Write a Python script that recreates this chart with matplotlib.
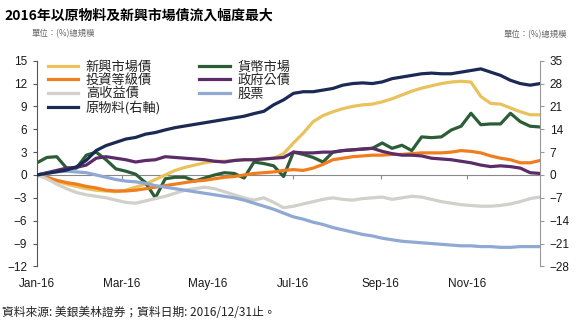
import matplotlib
matplotlib.use("Agg")
import matplotlib.pyplot as plt
import matplotlib.dates as mdates
import pandas as pd

plt.rcParams['font.family'] = ['Liberation Sans', 'Noto Sans CJK TC', 'DejaVu Sans']

# weekly cumulative flows, % of AUM
dates = pd.date_range('2016-01-01', periods=52, freq='7D')

em_debt = [0, -0.3, -0.8, -1.2, -1.5, -1.8, -2.0, -2.1, -2.2, -2.0, -1.6, -1.2, -0.6, 0.0,
           0.6, 1.0, 1.3, 1.6, 1.8, 1.8, 1.9, 2.0, 2.0, 2.1, 2.2, 2.8, 4.2, 5.5, 7.0, 7.8,
           8.3, 8.7, 9.0, 9.2, 9.3, 9.6, 10.0, 10.5, 11.0, 11.4, 11.7, 12.0, 12.2, 12.3,
           12.2, 10.3, 9.4, 9.3, 8.8, 8.3, 7.9, 7.9]
money_mkt = [1.6, 2.3, 2.4, 0.9, 0.9, 2.6, 3.0, 2.0, 0.8, 0.5, 0.1, -1.0, -3.0, -0.5,
             -0.3, -0.3, -0.8, -0.4, 0.0, 0.3, 0.2, -0.4, 1.7, 1.5, 1.2, -0.2, 3.0, 2.7,
             2.3, 1.7, 3.0, 3.2, 3.3, 3.4, 3.5, 4.2, 3.5, 3.9, 3.2, 5.0, 4.9, 5.0, 5.9,
             6.4, 8.1, 6.6, 6.7, 6.7, 8.1, 7.0, 6.4, 6.3]
ig_debt = [0, -0.3, -0.7, -1.0, -1.2, -1.5, -1.7, -2.0, -2.1, -2.1, -2.0, -1.8, -1.6,
           -1.4, -1.2, -1.0, -0.8, -0.7, -0.5, -0.3, -0.2, 0.0, 0.2, 0.3, 0.4, 0.6, 0.7,
           0.6, 0.9, 1.4, 2.0, 2.2, 2.4, 2.5, 2.6, 2.6, 2.7, 2.7, 2.8, 2.9, 2.9, 2.9,
           3.0, 3.2, 3.1, 2.9, 2.5, 2.2, 2.0, 1.6, 1.6, 1.9]
govt = [0, 0.3, 0.6, 0.9, 1.0, 1.3, 2.2, 2.4, 2.2, 2.0, 1.7, 1.9, 2.0, 2.4, 2.3, 2.2,
        2.1, 2.0, 1.8, 1.7, 1.9, 2.0, 2.0, 2.1, 2.2, 2.3, 3.0, 2.9, 2.9, 3.0, 3.0, 3.2,
        3.3, 3.4, 3.5, 3.1, 2.8, 2.6, 2.6, 2.5, 2.2, 2.1, 2.0, 1.8, 1.6, 1.3, 1.1, 1.2,
        1.1, 0.9, 0.3, 0.2]
high_yield = [0, -0.5, -1.2, -1.8, -2.3, -2.6, -2.8, -3.0, -3.3, -3.6, -3.7, -3.4, -3.1,
              -2.8, -2.4, -2.0, -1.8, -1.6, -1.8, -2.2, -2.6, -3.0, -3.3, -3.0, -3.6,
              -4.3, -4.1, -3.8, -3.5, -3.2, -3.0, -3.2, -3.3, -3.1, -3.0, -2.9, -3.2,
              -3.0, -2.8, -2.9, -3.2, -3.5, -3.7, -3.9, -4.0, -4.1, -4.1, -4.0, -3.8,
              -3.5, -3.1, -2.9]
equity = [0, 0.2, 0.4, 0.5, 0.4, 0.3, 0.0, -0.3, -0.6, -0.8, -0.9, -1.1, -1.4, -1.6,
          -1.8, -2.0, -2.2, -2.4, -2.6, -2.8, -3.0, -3.3, -3.7, -4.1, -4.5, -5.0, -5.5,
          -5.8, -6.2, -6.5, -6.9, -7.2, -7.5, -7.8, -8.0, -8.3, -8.5, -8.7, -8.8, -8.9,
          -9.0, -9.1, -9.2, -9.3, -9.3, -9.4, -9.4, -9.5, -9.5, -9.4, -9.4, -9.4]
# commodities, right axis
commod = [0, 0.5, 1.0, 1.5, 2.5, 4.5, 7.5, 9.0, 10.0, 11.0, 11.5, 12.5, 13.0, 13.8,
          14.5, 15.0, 15.5, 16.0, 16.5, 17.0, 17.5, 18.0, 18.8, 19.5, 21.5, 23.0, 25.0,
          25.5, 25.5, 26.0, 26.5, 27.5, 28.0, 28.2, 28.0, 28.5, 29.5, 30.0, 30.5, 31.0,
          31.2, 31.0, 31.0, 31.5, 32.0, 32.5, 31.5, 30.5, 29.0, 28.0, 27.5, 28.0]

left_ticks = [15, 12, 9, 6, 3, 0, -3, -6, -9, -12]
right_ticks = [35, 28, 21, 14, 7, 0, -7, -14, -21, -28]

cjk = ['Noto Sans CJK TC', 'DejaVu Sans']
lw = 2.3

fig = plt.figure(figsize=(5.76, 3.25), dpi=100)
ax = fig.add_axes([37/576, 1-266.4/325, 503/576, 205.7/325])
ax2 = ax.twinx()

l_em, = ax.plot(dates, em_debt, color='#E9C25C', lw=lw)
l_mm, = ax.plot(dates, money_mkt, color='#2B5E36', lw=lw)
l_ig, = ax.plot(dates, ig_debt, color='#F07D1E', lw=lw)
l_gv, = ax.plot(dates, govt, color='#5B2C68', lw=lw)
l_hy, = ax.plot(dates, high_yield, color='#D3CFCB', lw=lw)
l_eq, = ax.plot(dates, equity, color='#90A8D4', lw=lw)
l_cm, = ax2.plot(dates, commod, color='#1B2955', lw=lw)

ax.set_xlim(pd.Timestamp('2016-01-01'), pd.Timestamp('2016-12-23'))
ax.set_ylim(-12, 15)
ax2.set_ylim(-28, 35)
ax.set_yticks(left_ticks)
ax2.set_yticks(right_ticks)

months = pd.date_range('2016-01-01', periods=6, freq='2MS')
ax.set_xticks(months)
ax.xaxis.set_major_formatter(mdates.DateFormatter('%b-%y'))
ax.tick_params(axis='x', length=0, pad=8, labelsize=8.5, colors='#1a1a1a')
ax.tick_params(axis='y', length=3, width=0.8, pad=4, labelsize=8.5,
               colors='#1a1a1a', direction='out')
ax2.tick_params(axis='y', length=3, width=0.8, pad=4, labelsize=8.5,
                colors='#1a1a1a', direction='out')
ax.tick_params(axis='y', color='#555555')
ax2.tick_params(axis='y', color='#999999')

for s in ['top', 'right', 'bottom']:
    ax.spines[s].set_visible(False)
for s in ['top', 'left', 'bottom']:
    ax2.spines[s].set_visible(False)
ax.spines['left'].set_color('#555555')
ax.spines['left'].set_linewidth(0.8)
ax2.spines['right'].set_color('#999999')
ax2.spines['right'].set_linewidth(0.8)

# zero line with month ticks
zero = ax.secondary_xaxis(12/27)
zero.set_xticks(months)
zero.set_xticklabels([])
zero.tick_params(axis='x', length=3, width=0.8, color='#888888', direction='out')
zero.spines['bottom'].set_color('#888888')
zero.spines['bottom'].set_linewidth(0.8)

handles = [l_em, l_ig, l_hy, l_cm, l_mm, l_gv, l_eq]
labels = ['新興市場債', '投資等級債', '高收益債', '原物料(右軸)', '貨幣市場', '政府公債', '股票']
leg = fig.legend(handles, labels, loc='upper left', bbox_to_anchor=(41/576, 1-54/325),
                 ncol=2, frameon=False, prop={'family': cjk, 'size': 9.5},
                 handlelength=2.3, handletextpad=0.6, columnspacing=2.9,
                 labelspacing=0.03, borderpad=0)
for t in leg.get_texts():
    t.set_color('#222222')

fig.text(4/576, 1-16/325, '2016年以原物料及新興市場債流入幅度最大', family=cjk,
         fontsize=10, fontweight='bold', va='center', ha='left')
fig.text(32/576, 1-34/325, '單位：(%)總規模', family=cjk, fontsize=6,
         color='#666666', va='center', ha='left')
fig.text(567/576, 1-35/325, '單位：(%)總規模', family=cjk, fontsize=6,
         color='#666666', va='center', ha='right')
fig.text(2/576, 1-312/325, '資料來源: 美銀美林證券；資料日期: 2016/12/31止。', family=cjk,
         fontsize=8.5, color='#222222', va='center', ha='left')

fig.savefig('out.png', dpi=100)
